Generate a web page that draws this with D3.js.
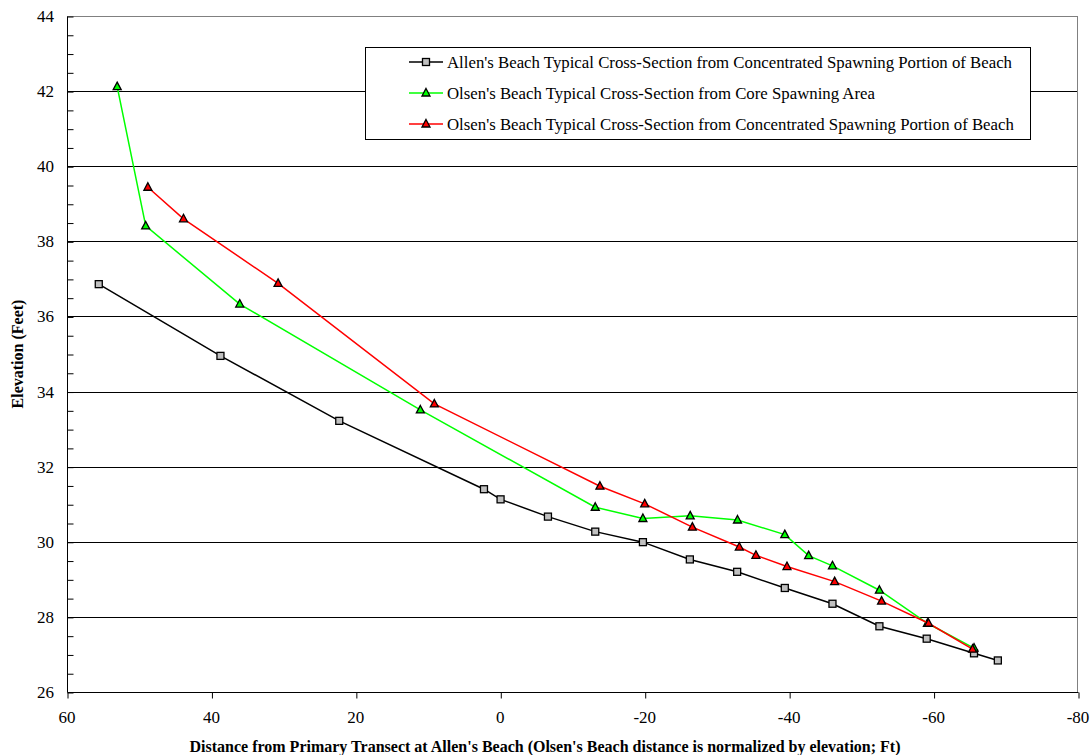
<!DOCTYPE html>
<html>
<head>
<meta charset="utf-8">
<script src="https://cdn.jsdelivr.net/npm/d3@7"></script>
<style>
  body { margin: 0; background: #fff; }
</style>
</head>
<body>
<div id="chart"></div>
<script>
// chart size and plot margins
const width = 1091;
const height = 755;
const margin = {left: 67, right: 13, top: 16, bottom: 63};
const fontName = "Liberation Serif";

// Allen's Beach (black, squares)
const allenX = [55.6, 38.75, 22.3, 2.26, -0.04, -6.6, -13.15, -19.75, -26.25, -32.8, -39.4, -46.0, -52.5, -59.05, -65.6, -68.9];
const allenY = [36.86, 34.95, 33.22, 31.4, 31.13, 30.67, 30.27, 29.99, 29.53, 29.2, 28.77, 28.35, 27.75, 27.42, 27.03, 26.84];

// Olsen's Beach core spawning area (green)
const coreX = [53.05, 49.1, 36.08, 11.07, -13.15, -19.75, -26.3, -32.85, -39.4, -42.7, -46.0, -52.5, -59.15, -65.6];
const coreY = [42.12, 38.41, 36.33, 33.51, 30.92, 30.62, 30.69, 30.58, 30.19, 29.63, 29.36, 28.71, 27.83, 27.17];

// Olsen's Beach concentrated spawning portion (red)
const concX = [48.8, 43.87, 30.77, 9.13, -13.8, -20.0, -26.6, -33.1, -35.4, -39.7, -46.3, -52.8, -59.3, -65.4];
const concY = [39.44, 38.6, 36.88, 33.67, 31.48, 31.01, 30.39, 29.86, 29.64, 29.34, 28.94, 28.42, 27.83, 27.14];

const xTicks = [60, 40, 20, 0, -20, -40, -60, -80];
const yTicks = [26, 28, 30, 32, 34, 36, 38, 40, 42, 44];

const seriesNames = [
  "Allen's Beach Typical Cross-Section from Concentrated Spawning Portion of Beach",
  "Olsen's Beach Typical Cross-Section from Core Spawning Area",
  "Olsen's Beach Typical Cross-Section from Concentrated Spawning Portion of Beach"
];

const series = [
  {name: seriesNames[0], xs: allenX, ys: allenY, color: "#000000", marker: "square"},
  {name: seriesNames[1], xs: coreX, ys: coreY, color: "#00ff00", marker: "triangle"},
  {name: seriesNames[2], xs: concX, ys: concY, color: "#ff0000", marker: "triangle"}
];

const svg = d3.select("#chart")
  .append("svg")
  .attr("width", width)
  .attr("height", height);

// scales (x runs from 60 on the left to -80 on the right)
const xScale = d3.scaleLinear()
  .domain([60, -80])
  .range([margin.left, width - margin.right]);

const yScale = d3.scaleLinear()
  .domain([26, 44])
  .range([height - margin.bottom, margin.top]);

// gridlines
svg.append("g")
  .selectAll("line")
  .data(yTicks.slice(1, -1))
  .enter()
  .append("line")
    .attr("x1", margin.left)
    .attr("x2", width - margin.right)
    .attr("y1", d => Math.round(yScale(d)) + 0.5)
    .attr("y2", d => Math.round(yScale(d)) + 0.5)
    .attr("stroke", "#000")
    .attr("stroke-width", 1);

// top and right border in gray
svg.append("line")
  .attr("x1", margin.left).attr("x2", width - margin.right)
  .attr("y1", margin.top + 0.5).attr("y2", margin.top + 0.5)
  .attr("stroke", "#808080");
svg.append("line")
  .attr("x1", width - margin.right - 0.5).attr("x2", width - margin.right - 0.5)
  .attr("y1", margin.top).attr("y2", height - margin.bottom)
  .attr("stroke", "#808080");

// y axis: minor ticks every 0.5, pointing inward
const yAxis = svg.append("g")
  .attr("transform", `translate(${margin.left + 0.5}, 0.5)`)
  .call(d3.axisRight(yScale)
    .tickValues(d3.range(26, 44.01, 0.5))
    .tickSize(6)
    .tickFormat(""));
yAxis.select(".domain").attr("stroke", "#000").attr("d", `M0,${margin.top}V${height - margin.bottom}`);

// y tick labels
svg.append("g")
  .selectAll("text")
  .data(yTicks)
  .enter()
  .append("text")
    .attr("x", margin.left - 13)
    .attr("y", d => yScale(d))
    .attr("dy", "0.35em")
    .attr("text-anchor", "end")
    .attr("font-family", fontName)
    .attr("font-size", "17px")
    .text(d => d);

// x axis: ticks pointing outward
const xAxis = svg.append("g")
  .attr("transform", `translate(0.5, ${height - margin.bottom + 0.5})`)
  .call(d3.axisBottom(xScale)
    .tickValues(xTicks)
    .tickSize(6)
    .tickFormat(""));
xAxis.select(".domain").attr("stroke", "#000")
  .attr("d", `M${margin.left},0H${width - margin.right}`);

svg.append("g")
  .selectAll("text")
  .data(xTicks)
  .enter()
  .append("text")
    .attr("x", d => xScale(d))
    .attr("y", height - margin.bottom + 31)
    .attr("text-anchor", "middle")
    .attr("font-family", fontName)
    .attr("font-size", "17px")
    .text(d => d);

// axis titles
svg.append("text")
  .attr("x", 545)
  .attr("y", 752)
  .attr("text-anchor", "middle")
  .attr("font-family", fontName)
  .attr("font-size", "16px")
  .attr("font-weight", "bold")
  .text("Distance from Primary Transect at Allen's Beach (Olsen's Beach distance is normalized by elevation; Ft)");

svg.append("text")
  .attr("transform", `translate(23, ${(margin.top + height - margin.bottom) / 2}) rotate(-90)`)
  .attr("text-anchor", "middle")
  .attr("font-family", fontName)
  .attr("font-size", "16px")
  .attr("font-weight", "bold")
  .text("Elevation (Feet)");

// markers
const drawMarker = function(g, type, color, x, y) {
  if (type === "square") {
    g.append("rect")
      .attr("x", x - 3.5).attr("y", y - 3.5)
      .attr("width", 7).attr("height", 7)
      .attr("fill", "#c0c0c0")
      .attr("stroke", "#000")
      .attr("stroke-width", 1.3);
  } else {
    g.append("path")
      .attr("d", `M${x},${y - 4.5}L${x + 4},${y + 3}L${x - 4},${y + 3}Z`)
      .attr("fill", color)
      .attr("stroke", "#000")
      .attr("stroke-width", 1.3);
  }
};

const line = d3.line()
  .x(d => xScale(d[0]))
  .y(d => yScale(d[1]));

series.forEach(function(s) {
  const pts = s.xs.map((x, i) => [x, s.ys[i]]);
  svg.append("path")
    .datum(pts)
    .attr("d", line)
    .attr("fill", "none")
    .attr("stroke", s.color)
    .attr("stroke-width", 1.5);
  const g = svg.append("g");
  pts.forEach(p => drawMarker(g, s.marker, s.color, xScale(p[0]), yScale(p[1])));
});

// legend
const legend = svg.append("g");
legend.append("rect")
  .attr("x", 365.5).attr("y", 47.5)
  .attr("width", 665).attr("height", 92)
  .attr("fill", "#fff")
  .attr("stroke", "#000");

const legendRows = [62, 93, 124];
series.forEach(function(s, i) {
  const y = legendRows[i];
  legend.append("line")
    .attr("x1", 409).attr("x2", 443)
    .attr("y1", y).attr("y2", y)
    .attr("stroke", s.color)
    .attr("stroke-width", 1.5);
  drawMarker(legend, s.marker, s.color, 426, y);
  legend.append("text")
    .attr("x", 447)
    .attr("y", y)
    .attr("dy", "0.35em")
    .attr("font-family", fontName)
    .attr("font-size", "16.8px")
    .text(s.name);
});
</script>
</body>
</html>
